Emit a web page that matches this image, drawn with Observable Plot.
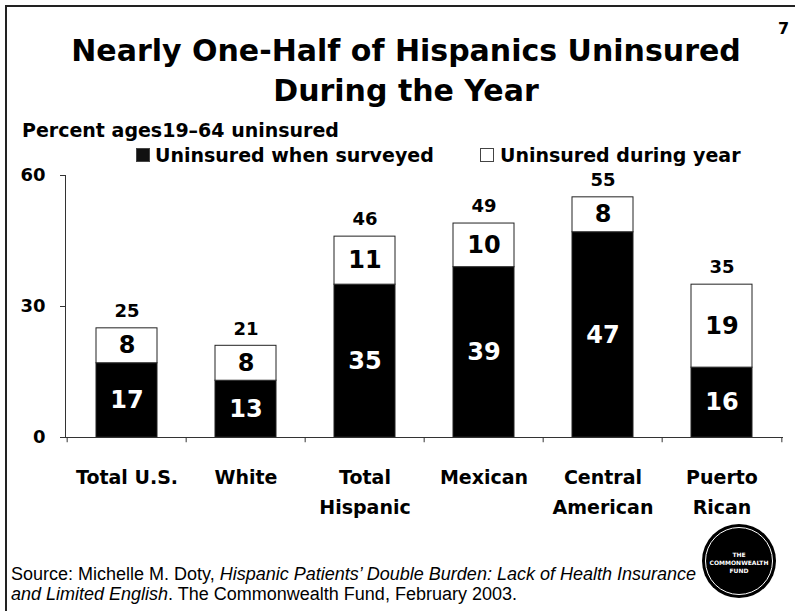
<!DOCTYPE html>
<html><head><meta charset="utf-8">
<script src="https://cdn.jsdelivr.net/npm/d3@7"></script>
<script src="https://cdn.jsdelivr.net/npm/@observablehq/plot@0.6"></script>
<style>
body{margin:0;background:#fff;}
#page{position:relative;width:795px;height:611px;overflow:hidden;font-family:"Liberation Sans",Arial,sans-serif;color:#000;background:#fff;}
#frame{position:absolute;left:5px;top:5px;width:800px;height:620px;border-left:2px solid #222;border-top:2px solid #222;}
#chart{position:absolute;left:0;top:0;}
.t{position:absolute;white-space:nowrap;font-weight:bold;font-family:"DejaVu Sans",sans-serif;line-height:normal;}
#title{left:0;width:812px;top:31px;text-align:center;font-size:30px;line-height:40px;}
#pnum{left:778px;top:19px;font-size:16px;}
#sub{left:22px;top:119px;font-size:19px;}
.leg{top:144px;font-size:19px;}
.sw{position:absolute;width:12px;height:12px;border:1px solid #444;top:4px;}
#src{position:absolute;left:11px;top:564px;font-size:18px;line-height:20px;white-space:nowrap;}
#logo{position:absolute;left:702px;top:524px;width:74px;height:74px;border-radius:50%;background:#000;}
#logo .ring{position:absolute;left:3px;top:3px;width:68px;height:68px;border-radius:50%;border:1px solid #fff;box-sizing:border-box;}
#logo .lt{position:absolute;left:0;width:74px;top:27px;text-align:center;color:#fff;font-size:6px;line-height:8px;font-weight:bold;font-family:"DejaVu Sans",sans-serif;}
</style></head><body>
<div id="page">
<div id="chart"></div>
<div id="frame"></div>
<div class="t" id="title">Nearly One-Half of Hispanics Uninsured<br>During the Year</div>
<div class="t" id="pnum">7</div>
<div class="t" id="sub">Percent ages19–64 uninsured</div>
<div class="t leg" id="leg1" style="left:136px;"><span class="sw" style="left:0;background:#111;"></span><span style="padding-left:19px;">Uninsured when surveyed</span></div>
<div class="t leg" id="leg2" style="left:480px;"><span class="sw" style="left:0;background:#fff;"></span><span style="padding-left:20px;">Uninsured during year</span></div>
<div id="src">Source: Michelle M. Doty, <i>Hispanic Patients’ Double Burden: Lack of Health Insurance</i><br><i>and Limited English</i>. The Commonwealth Fund, February 2003.</div>
<div id="logo"><div class="ring"></div><div class="lt">THE<br>COMMONWEALTH<br>FUND</div></div>
</div>
<script>
const categories = ["Total U.S.", "White", "Total Hispanic", "Mexican", "Central American", "Puerto Rican"];
const xLabels = ["Total U.S.", "White", "Total\nHispanic", "Mexican", "Central\nAmerican", "Puerto\nRican"];
const surveyed = [17, 13, 35, 39, 47, 16];
const duringYear = [8, 8, 11, 10, 8, 19];
const totals = [25, 21, 46, 49, 55, 35];
const yTicks = [0, 30, 60];
const seriesNames = ["Uninsured when surveyed", "Uninsured during year"];

const rows = [];
categories.forEach((c, i) => {
  rows.push({cat: c, series: seriesNames[0], value: surveyed[i], y1: 0, y2: surveyed[i]});
  rows.push({cat: c, series: seriesNames[1], value: duringYear[i], y1: surveyed[i], y2: surveyed[i] + duringYear[i]});
});
const totalRows = categories.map((c, i) => ({cat: c, total: totals[i]}));
const labelOf = Object.fromEntries(categories.map((c, i) => [c, xLabels[i]]));

const W = 795, H = 611, mL = 65, mR = 12, mT = 175, mB = 174;
const step = (W - mL - mR) / categories.length;

const fillOf = {[seriesNames[0]]: "#000", [seriesNames[1]]: "#fff"};
const textOf = {[seriesNames[0]]: "#fff", [seriesNames[1]]: "#000"};
const BOLD = "'DejaVu Sans', sans-serif";

const chart = Plot.plot({
  width: W, height: H,
  marginTop: mT, marginBottom: mB, marginLeft: mL, marginRight: mR,
  style: {background: "transparent", fontFamily: BOLD, color: "#000"},
  x: {domain: categories, paddingInner: 0.49, paddingOuter: 0.245, label: null},
  y: {domain: [0, 60], label: null},
  marks: [
    Plot.barY(rows, {x: "cat", y1: "y1", y2: "y2", fill: d => fillOf[d.series], stroke: "#222", strokeWidth: 1}),
    Plot.frame({anchor: "left", stroke: "#333"}),
    Plot.ruleY([0], {stroke: "#333"}),
    Plot.ruleX(categories, {x: d => d, y1: 0, y2: -1.2, dx: -step / 2, stroke: "#333"}),
    Plot.ruleX(categories.slice(-1), {x: d => d, y1: 0, y2: -1.2, dx: step / 2, stroke: "#333"}),
    Plot.axisY({ticks: yTicks, tickSize: 5, tickPadding: 15, fontSize: 18, fontWeight: "bold", label: null, stroke: "#333"}),
    Plot.axisX({tickSize: 0, tickPadding: 26, fontSize: 19, fontWeight: "bold", lineHeight: 1.55, tickFormat: d => labelOf[d], label: null}),
    Plot.text(rows, {x: "cat", y: d => (d.y1 + d.y2) / 2, text: d => String(d.value), fill: d => textOf[d.series], fontSize: 24, fontWeight: "bold"}),
    Plot.text(totalRows, {x: "cat", y: "total", text: d => String(d.total), dy: -17, fontSize: 18, fontWeight: "bold", fill: "#000"})
  ]
});
document.getElementById("chart").appendChild(chart);
</script>
</body></html>
